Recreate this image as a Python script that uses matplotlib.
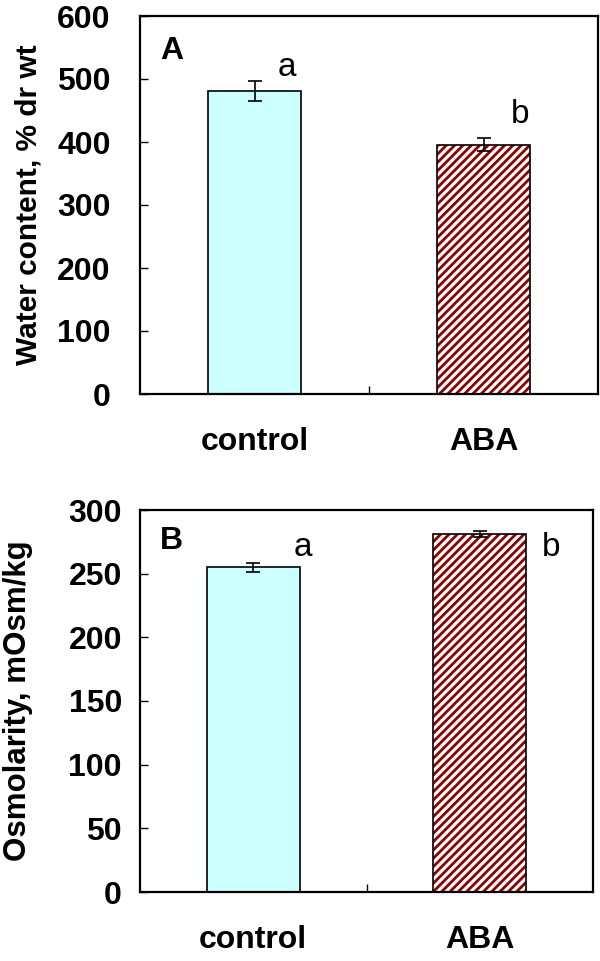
import matplotlib
matplotlib.use("Agg")
import matplotlib.pyplot as plt
import numpy as np

plt.rcParams['font.family'] = ['Liberation Sans', 'DejaVu Sans']
plt.rcParams['hatch.linewidth'] = 2.0

categories = ["control", "ABA"]
water_content = [481, 396]
water_err = [16, 11]
water_letters = ["a", "b"]
osmolarity = [255, 281]
osm_err = [3.5, 2.5]
osm_letters = ["a", "b"]

fill_colors = ["#CCFFFF", "white"]
hatches = ["", "////"]
hatch_color = "#8B0000"

fig = plt.figure(figsize=(6, 9.61), dpi=100)
axA = fig.add_axes([140/600, 1-394/961, 458/600, 378/961])
axB = fig.add_axes([140/600, 1-892/961, 453/600, 382/961])

def draw(ax, vals, errs, letters, ylim, yticks, ylabel, panel, letter_pos, panel_y, tickpad, label_x, lab_fs):
    x = np.arange(len(vals)) + 0.5
    for i in range(len(vals)):
        if hatches[i]:
            ax.bar(x[i], vals[i], width=0.41, color=fill_colors[i], edgecolor=hatch_color,
                   hatch=hatches[i], linewidth=0, zorder=2)
        else:
            ax.bar(x[i], vals[i], width=0.41, color=fill_colors[i], linewidth=0, zorder=2)
    ax.bar(x, vals, width=0.41, fill=False, edgecolor="black", linewidth=1.2, zorder=3)
    ax.errorbar(x, vals, yerr=errs, fmt="none", ecolor="black", elinewidth=1.2,
                capsize=5, capthick=1.2, zorder=4)
    ax.set_xlim(0, 2)
    ax.set_ylim(*ylim)
    ax.set_yticks(yticks)
    ax.set_yticklabels([str(t) for t in yticks], fontsize=23, fontweight="bold")
    ax.tick_params(axis="y", direction="in", length=6, width=1, pad=tickpad, left=True, right=False)
    ax.set_xticks(x)
    ax.set_xticklabels(categories, fontsize=23, fontweight="bold")
    ax.tick_params(axis="x", which="major", length=0, pad=24)
    ax.set_xticks([1], minor=True)
    ax.tick_params(axis="x", which="minor", direction="in", length=6, width=1)
    for s in ax.spines.values():
        s.set_linewidth(1.6)
    ax.set_ylabel(ylabel, fontsize=lab_fs, fontweight="bold")
    ax.yaxis.set_label_coords(label_x, 0.5)
    ax.text(0.044, panel_y, panel, transform=ax.transAxes, fontsize=23, fontweight="bold",
            ha="left", va="baseline")
    for i, l in enumerate(letters):
        ax.text(letter_pos[i][0], letter_pos[i][1], l, fontsize=24, ha="center", va="baseline")

draw(axA, water_content, water_err, water_letters, (0, 600), [0, 100, 200, 300, 400, 500, 600],
     "Water content, % dr wt", "A", [(0.642, 505), (1.66, 430)], 0.886, 21, -0.212, 21.5)
draw(axB, osmolarity, osm_err, osm_letters, (0, 300), [0, 50, 100, 150, 200, 250, 300],
     "Osmolarity, mOsm/kg", "B", [(0.717, 264), (1.815, 264)], 0.898, 13, -0.236, 22.5)

fig.savefig("out.png", dpi=100)
